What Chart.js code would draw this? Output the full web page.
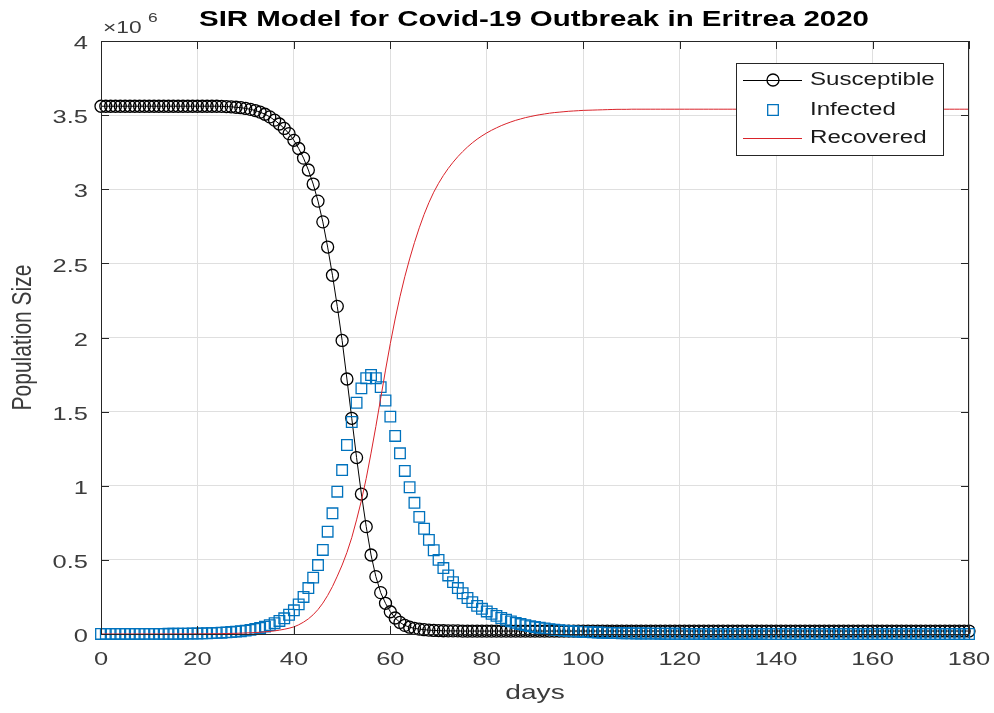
<!DOCTYPE html>
<html>
<head>
<meta charset="utf-8">
<script src="https://cdn.jsdelivr.net/npm/chart.js@4.4.1/dist/chart.umd.min.js"></script>
<style>
    html, body { margin: 0; padding: 0; background: #fff; }
    canvas { display: block; }
</style>
</head>
<body>
<canvas id="sirChart" width="994" height="713"></canvas>
<script>
// Days 0..180, one sample per day
const days = Array.from({ length: 181 }, (_, d) => d);

// Values in units of 10^6 people
const susceptible = [
    3.56, 3.56, 3.56, 3.56, 3.56, 3.56, 3.56, 3.56, 3.56, 3.56,
    3.56, 3.56, 3.56, 3.56, 3.56, 3.56, 3.56, 3.56, 3.56, 3.56,
    3.56, 3.56, 3.56, 3.56, 3.56, 3.559, 3.558, 3.556, 3.553, 3.55,
    3.545, 3.539, 3.531, 3.52, 3.506, 3.488, 3.466, 3.44, 3.41, 3.375,
    3.33, 3.275, 3.21, 3.13, 3.035, 2.92, 2.78, 2.61, 2.42, 2.21,
    1.98, 1.72, 1.455, 1.19, 0.944, 0.724, 0.533, 0.387, 0.279, 0.207,
    0.15, 0.108, 0.078, 0.058, 0.046, 0.038, 0.033, 0.029, 0.026, 0.024,
    0.023, 0.022, 0.021, 0.021, 0.021, 0.02, 0.02, 0.02, 0.02, 0.02,
    0.02, 0.02, 0.02, 0.02, 0.02, 0.02, 0.02, 0.02, 0.02, 0.02,
    0.02, 0.02, 0.02, 0.02, 0.02, 0.02, 0.02, 0.02, 0.02, 0.02,
    0.02, 0.02, 0.02, 0.02, 0.02, 0.02, 0.02, 0.02, 0.02, 0.02,
    0.02, 0.02, 0.02, 0.02, 0.02, 0.02, 0.02, 0.02, 0.02, 0.02,
    0.02, 0.02, 0.02, 0.02, 0.02, 0.02, 0.02, 0.02, 0.02, 0.02,
    0.02, 0.02, 0.02, 0.02, 0.02, 0.02, 0.02, 0.02, 0.02, 0.02,
    0.02, 0.02, 0.02, 0.02, 0.02, 0.02, 0.02, 0.02, 0.02, 0.02,
    0.02, 0.02, 0.02, 0.02, 0.02, 0.02, 0.02, 0.02, 0.02, 0.02,
    0.02, 0.02, 0.02, 0.02, 0.02, 0.02, 0.02, 0.02, 0.02, 0.02,
    0.02, 0.02, 0.02, 0.02, 0.02, 0.02, 0.02, 0.02, 0.02, 0.02,
    0.02
];

const infected = [
    0.0002, 0.0002, 0.0002, 0.0003, 0.0003, 0.0003, 0.0004, 0.0004, 0.0005, 0.0006,
    0.0007, 0.0008, 0.0009, 0.001, 0.0012, 0.0014, 0.0017, 0.002, 0.0024, 0.0029,
    0.0035, 0.0042, 0.005, 0.006, 0.0073, 0.0088, 0.0107, 0.013, 0.0158, 0.019,
    0.023, 0.028, 0.034, 0.041, 0.05, 0.06, 0.073, 0.088, 0.106, 0.13,
    0.16, 0.2, 0.25, 0.31, 0.38, 0.465, 0.567, 0.69, 0.814, 0.96,
    1.106, 1.275, 1.43, 1.56, 1.657, 1.725, 1.747, 1.725, 1.665, 1.575,
    1.466, 1.336, 1.219, 1.1, 0.99, 0.885, 0.79, 0.71, 0.635, 0.565,
    0.5, 0.445, 0.395, 0.35, 0.31, 0.275, 0.243, 0.215, 0.19, 0.17,
    0.152, 0.136, 0.122, 0.108, 0.096, 0.085, 0.075, 0.067, 0.06, 0.053,
    0.047, 0.042, 0.037, 0.033, 0.029, 0.026, 0.023, 0.02, 0.018, 0.016,
    0.014, 0.0125, 0.011, 0.0098, 0.0087, 0.0077, 0.0068, 0.006, 0.0053, 0.0047,
    0.0042, 0.0037, 0.0033, 0.0029, 0.0026, 0.0023, 0.002, 0.0018, 0.0016, 0.0014,
    0.0012, 0.0011, 0.001, 0.0009, 0.0008, 0.0007, 0.0006, 0.0005, 0.0005, 0.0004,
    0.0004, 0.0003, 0.0003, 0.0003, 0.0002, 0.0002, 0.0002, 0.0002, 0.0001, 0.0001,
    0.0001, 0.0001, 0.0001, 0.0001, 0.0001, 0.0001, 0.0001, 0.0001, 0.0001, 0.0001,
    0, 0, 0, 0, 0, 0, 0, 0, 0, 0,
    0, 0, 0, 0, 0, 0, 0, 0, 0, 0,
    0, 0, 0, 0, 0, 0, 0, 0, 0, 0,
    0
];

const recovered = [
    0, 0.00005, 0.0001, 0.0001, 0.0001, 0.0001, 0.0001, 0.0001, 0.0002, 0.0002,
    0.0002, 0.0002, 0.0003, 0.0003, 0.0004, 0.0004, 0.0005, 0.0006, 0.0007, 0.0009,
    0.001, 0.0013, 0.0015, 0.0018, 0.0022, 0.0027, 0.0032, 0.0039, 0.0047, 0.0057,
    0.0069, 0.0083, 0.01, 0.012, 0.0145, 0.0175, 0.021, 0.026, 0.032, 0.039,
    0.048, 0.062, 0.08, 0.102, 0.13, 0.165, 0.208, 0.26, 0.32, 0.39,
    0.465, 0.55, 0.65, 0.77, 0.9, 1.05, 1.22, 1.4, 1.59, 1.78,
    1.96, 2.125, 2.275, 2.41, 2.53, 2.64, 2.74, 2.83, 2.91, 2.98,
    3.04, 3.093, 3.14, 3.182, 3.22, 3.254, 3.285, 3.313, 3.338, 3.36,
    3.38, 3.398, 3.414, 3.429, 3.442, 3.454, 3.465, 3.474, 3.483, 3.49,
    3.497, 3.503, 3.508, 3.513, 3.517, 3.52, 3.523, 3.526, 3.528, 3.53,
    3.532, 3.533, 3.534, 3.535, 3.536, 3.537, 3.538, 3.539, 3.539, 3.539,
    3.54, 3.54, 3.54, 3.54, 3.54, 3.54, 3.54, 3.54, 3.54, 3.54,
    3.54, 3.54, 3.54, 3.54, 3.54, 3.54, 3.54, 3.54, 3.54, 3.54,
    3.54, 3.54, 3.54, 3.54, 3.54, 3.54, 3.54, 3.54, 3.54, 3.54,
    3.54, 3.54, 3.54, 3.54, 3.54, 3.54, 3.54, 3.54, 3.54, 3.54,
    3.54, 3.54, 3.54, 3.54, 3.54, 3.54, 3.54, 3.54, 3.54, 3.54,
    3.54, 3.54, 3.54, 3.54, 3.54, 3.54, 3.54, 3.54, 3.54, 3.54,
    3.54, 3.54, 3.54, 3.54, 3.54, 3.54, 3.54, 3.54, 3.54, 3.54,
    3.54
];

const xTickLabels = ['0', '20', '40', '60', '80', '100', '120', '140', '160', '180'];
const yTickLabels = ['0', '0.5', '1', '1.5', '2', '2.5', '3', '3.5', '4'];
const seriesNames = ['Susceptible', 'Infected', 'Recovered'];

const FONT = '"Liberation Sans", Arial, sans-serif';
const AXIS_COLOR = '#262626';
const TEXT_COLOR = '#3c3c3c';
const SX = 1.34; // the figure's text is stretched horizontally

function toPoints(values) {
    return days.map((d, i) => ({ x: d, y: values[i] }));
}

function wideText(ctx, text, x, y, align, font, color) {
    ctx.save();
    ctx.translate(x, y);
    ctx.scale(SX, 1);
    ctx.font = font;
    ctx.fillStyle = color;
    ctx.textAlign = align;
    ctx.textBaseline = 'middle';
    ctx.fillText(text, 0, 0);
    ctx.restore();
}

// Box, inward ticks, labels, title and legend, MATLAB style
const matlabFrame = {
    id: 'matlabFrame',
    afterDraw(chart) {
        const ctx = chart.ctx;
        const area = chart.chartArea;
        const xs = chart.scales.x;
        const ys = chart.scales.y;

        ctx.save();
        ctx.strokeStyle = AXIS_COLOR;
        ctx.lineWidth = 1;
        ctx.strokeRect(Math.round(area.left) + 0.5, Math.round(area.top) + 0.5,
            Math.round(area.right - area.left) - 1, Math.round(area.bottom - area.top));

        // tick marks on all four sides
        ctx.beginPath();
        xs.ticks.forEach(t => {
            const px = Math.round(xs.getPixelForValue(t.value)) + 0.5;
            ctx.moveTo(px, area.bottom); ctx.lineTo(px, area.bottom - 8);
            ctx.moveTo(px, area.top); ctx.lineTo(px, area.top + 8);
        });
        ys.ticks.forEach(t => {
            const py = Math.round(ys.getPixelForValue(t.value)) + 0.5;
            ctx.moveTo(area.left, py); ctx.lineTo(area.left + 8, py);
            ctx.moveTo(area.right, py); ctx.lineTo(area.right - 8, py);
        });
        ctx.stroke();
        ctx.restore();

        const tickFont = '19px ' + FONT;
        xs.ticks.forEach((t, i) => {
            wideText(ctx, xTickLabels[i], xs.getPixelForValue(t.value), area.bottom + 26, 'center', tickFont, TEXT_COLOR);
        });
        ys.ticks.forEach((t, i) => {
            wideText(ctx, yTickLabels[i], area.left - 13, ys.getPixelForValue(t.value) + 3, 'right', tickFont, TEXT_COLOR);
        });

        // exponent label
        wideText(ctx, '\u00d710', area.left + 2, 28, 'left', '17px ' + FONT, TEXT_COLOR);
        wideText(ctx, '6', area.left + 47, 18, 'left', '13px ' + FONT, TEXT_COLOR);

        // axis titles
        wideText(ctx, 'days', (area.left + area.right) / 2, 693, 'center', '21px ' + FONT, TEXT_COLOR);
        ctx.save();
        ctx.translate(23, (area.top + area.bottom) / 2);
        ctx.rotate(-Math.PI / 2);
        ctx.scale(1, SX);
        ctx.font = '21px ' + FONT;
        ctx.fillStyle = TEXT_COLOR;
        ctx.textAlign = 'center';
        ctx.textBaseline = 'middle';
        ctx.fillText('Population Size', 0, 0);
        ctx.restore();

        // title
        wideText(ctx, 'SIR Model for Covid-19 Outbreak in Eritrea 2020', 534, 20, 'center', 'bold 22px ' + FONT, '#000');

        // legend
        const lx = 736, ly = 63, lw = 207, lh = 92;
        ctx.save();
        ctx.fillStyle = '#fff';
        ctx.fillRect(lx, ly, lw, lh);
        ctx.strokeStyle = AXIS_COLOR;
        ctx.lineWidth = 1;
        ctx.strokeRect(lx + 0.5, ly + 0.5, lw, lh);
        const rows = [80, 110, 138];
        chart.data.datasets.forEach((ds, i) => {
            const y = rows[i];
            if (ds.showLine !== false) {
                ctx.beginPath();
                ctx.strokeStyle = ds.borderColor;
                ctx.lineWidth = ds.borderWidth;
                ctx.moveTo(743, y + 0.5);
                ctx.lineTo(802, y + 0.5);
                ctx.stroke();
            }
            if (ds.pointRadius > 0) {
                ctx.lineWidth = ds.pointBorderWidth;
                ctx.strokeStyle = ds.pointBorderColor;
                ctx.fillStyle = ds.pointBackgroundColor;
                Chart.helpers.drawPoint(ctx, { pointStyle: ds.pointStyle, radius: ds.pointRadius, rotation: 0, borderWidth: ds.pointBorderWidth }, 773, y);
            }
            wideText(ctx, seriesNames[i], 810, y, 'left', '18px ' + FONT, '#1a1a1a');
        });
        ctx.restore();
    }
};

const ctx = document.getElementById('sirChart').getContext('2d');
new Chart(ctx, {
    type: 'line',
    data: {
        datasets: [
            {
                label: seriesNames[0],
                data: toPoints(susceptible),
                borderColor: '#000000',
                borderWidth: 1,
                tension: 0,
                pointStyle: 'circle',
                pointRadius: 6,
                pointBorderWidth: 1.3,
                pointBorderColor: '#000000',
                pointBackgroundColor: 'rgba(0,0,0,0)',
                clip: 8,
                order: 3
            },
            {
                label: seriesNames[1],
                data: toPoints(infected),
                showLine: false,
                borderColor: '#0072bd',
                pointStyle: 'rect',
                pointRadius: 7.5,
                pointBorderWidth: 1.3,
                pointBorderColor: '#0072bd',
                pointBackgroundColor: 'rgba(0,0,0,0)',
                clip: 8,
                order: 2
            },
            {
                label: seriesNames[2],
                data: toPoints(recovered),
                borderColor: '#d9232a',
                borderWidth: 1,
                tension: 0,
                pointRadius: 0,
                order: 1
            }
        ]
    },
    options: {
        responsive: false,
        animation: false,
        devicePixelRatio: 1,
        layout: { padding: { top: 41, right: 25, left: 0, bottom: 0 } },
        plugins: {
            legend: { display: false },
            title: { display: false },
            tooltip: { enabled: false }
        },
        scales: {
            x: {
                type: 'linear',
                min: 0,
                max: 180,
                ticks: { stepSize: 20, display: false },
                grid: { color: '#dfdfdf', drawTicks: false },
                border: { display: false },
                afterFit: scale => { scale.height = 79; }
            },
            y: {
                min: 0,
                max: 4,
                ticks: { stepSize: 0.5, display: false },
                grid: { color: '#dfdfdf', drawTicks: false },
                border: { display: false },
                afterFit: scale => { scale.width = 101; }
            }
        }
    },
    plugins: [matlabFrame]
});
</script>
</body>
</html>
